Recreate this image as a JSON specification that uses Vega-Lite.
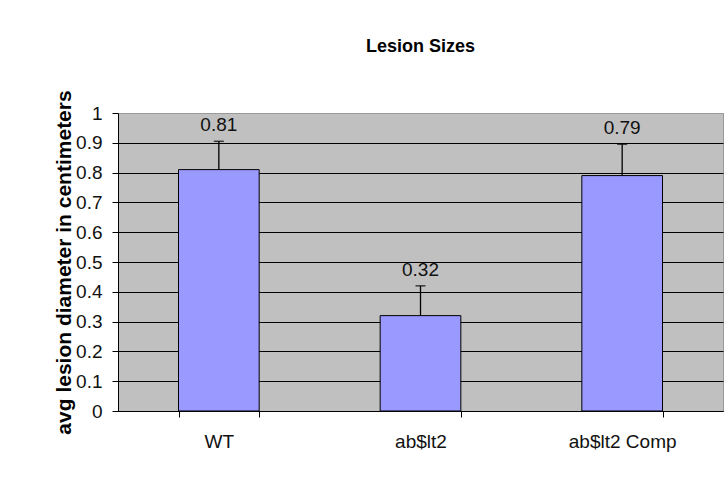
{
  "$schema": "https://vega.github.io/schema/vega-lite/v6.json",
  "width": 605,
  "height": 298,
  "autosize": {"type": "none"},
  "padding": {"left": 118, "top": 113, "right": 3, "bottom": 69},
  "background": "white",
  "title": {
    "text": "Lesion Sizes",
    "font": "Liberation Sans",
    "fontSize": 18,
    "fontWeight": "bold",
    "color": "#000",
    "anchor": "middle",
    "offset": 34
  },
  "config": {
    "view": {"fill": "#C0C0C0", "stroke": "#9A9A9A", "strokeWidth": 1},
    "axis": {
      "domain": true,
      "domainColor": "#000",
      "domainWidth": 1,
      "ticks": true,
      "tickColor": "#000",
      "tickSize": 6,
      "tickWidth": 1,
      "labelFont": "Liberation Sans",
      "labelColor": "#111",
      "labelFontSize": 19,
      "titleFont": "Liberation Sans"
    },
    "axisX": {"tickBand": "extent"}
  },
  "data": {
    "values": [
      {"strain": "WT", "value": 0.81, "upper": 0.905, "label": "0.81"},
      {"strain": "ab$lt2", "value": 0.32, "upper": 0.42, "label": "0.32"},
      {"strain": "ab$lt2 Comp", "value": 0.79, "upper": 0.895, "label": "0.79"}
    ]
  },
  "layer": [
    {
      "mark": {"type": "bar", "fill": "#9999FF", "stroke": "#000", "strokeWidth": 1},
      "encoding": {
        "x": {
          "field": "strain",
          "type": "nominal",
          "sort": null,
          "scale": {"paddingInner": 0.6, "paddingOuter": 0.3},
          "axis": {
            "title": null,
            "labelAngle": 0,
            "tickBand": "extent",
            "labelPadding": 15,
            "grid": false
          }
        },
        "y": {
          "field": "value",
          "type": "quantitative",
          "scale": {"domain": [0, 1], "nice": false},
          "axis": {
            "title": "avg lesion diameter in centimeters",
            "titleFontSize": 21,
            "titleFontWeight": "bold",
            "titleColor": "#000",
            "titlePadding": 1,
            "tickCount": 10,
            "labelOverlap": false,
            "format": "~g",
            "grid": true,
            "gridColor": {"condition": {"test": "datum.value >= 1", "value": "#9A9A9A"}, "value": "#000"},
            "gridWidth": 1,
            "labelPadding": 10
          }
        }
      }
    },
    {
      "mark": {"type": "rule", "color": "#000", "strokeWidth": 1.3},
      "encoding": {
        "x": {"field": "strain", "type": "nominal", "sort": null},
        "y": {"field": "value", "type": "quantitative"},
        "y2": {"field": "upper"}
      }
    },
    {
      "mark": {"type": "tick", "color": "#000", "size": 10, "thickness": 1.5, "orient": "horizontal"},
      "encoding": {
        "x": {"field": "strain", "type": "nominal", "sort": null},
        "y": {"field": "upper", "type": "quantitative"}
      }
    },
    {
      "mark": {"type": "text", "font": "Liberation Sans", "fontSize": 19, "color": "#111", "baseline": "middle", "dy": -16},
      "encoding": {
        "x": {"field": "strain", "type": "nominal", "sort": null},
        "y": {"field": "upper", "type": "quantitative"},
        "text": {"field": "label"}
      }
    }
  ]
}
